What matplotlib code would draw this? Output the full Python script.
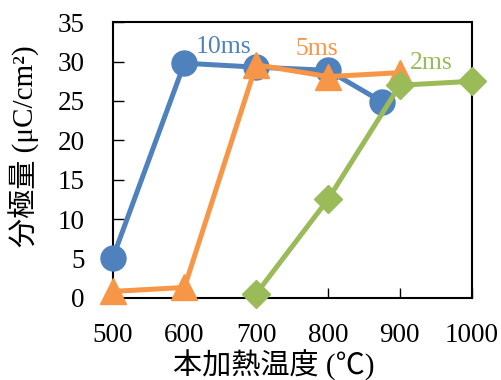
import matplotlib
matplotlib.use("Agg")
import matplotlib.pyplot as plt

# datos
temp_10ms = [500, 600, 700, 800, 875]
pol_10ms = [5.0, 29.8, 29.3, 28.9, 24.9]
temp_5ms = [500, 600, 700, 800, 900]
pol_5ms = [0.8, 1.3, 29.6, 28.1, 28.6]
temp_2ms = [700, 800, 900, 1000]
pol_2ms = [0.5, 12.5, 27.0, 27.5]

azul = "#4F81BD"
naranja = "#F79646"
verde = "#9BBB59"

plt.rcParams["font.family"] = ["Liberation Serif", "Noto Sans CJK JP"]

fig = plt.figure(figsize=(5.02, 3.8), dpi=100)
ax = fig.add_axes([0.2243, 0.2166, 0.7153, 0.7247])

ax.plot(temp_10ms, pol_10ms, color=azul, lw=3.6, marker="o", ms=18, clip_on=False, zorder=3)
ax.plot(temp_5ms, pol_5ms, color=naranja, lw=3.6, marker="^", ms=19, clip_on=False, zorder=4)
ax.plot(temp_2ms, pol_2ms, color=verde, lw=3.6, marker="D", ms=14, clip_on=False, zorder=5)

ax.text(654, 31.8, "10ms", color=azul, fontsize=18.5, ha="center", va="center")
ax.text(784, 31.6, "5ms", color=naranja, fontsize=18.5, ha="center", va="center")
ax.text(944, 29.8, "2ms", color=verde, fontsize=18.5, ha="center", va="center")

ax.set_xlim(500, 1000)
ax.set_ylim(0, 35)
ax.set_xticks(range(500, 1001, 100))
ax.set_yticks(range(0, 36, 5))
ax.tick_params(axis="y", direction="in", length=8, width=1, labelsize=19.5, pad=20)
ax.tick_params(axis="x", direction="in", length=7, width=1, labelsize=19.5, pad=18)
for s in ax.spines.values():
    s.set_linewidth(1.5)

ax.set_xlabel("本加熱温度 (℃)", fontsize=21, va="center", ha="center")
ax.set_ylabel("分極量 (μC/cm²)", fontsize=21, va="center", ha="center")
ax.xaxis.set_label_coords(0.45, -0.245)
ax.yaxis.set_label_coords(-0.245, 0.55)

# etiqueta cortada del grafico vecino
fig.text(1.035, 0.55, "分極量 (μC/cm²)", rotation=90, fontsize=21, ha="center", va="center")

fig.savefig("out.png", dpi=100)
